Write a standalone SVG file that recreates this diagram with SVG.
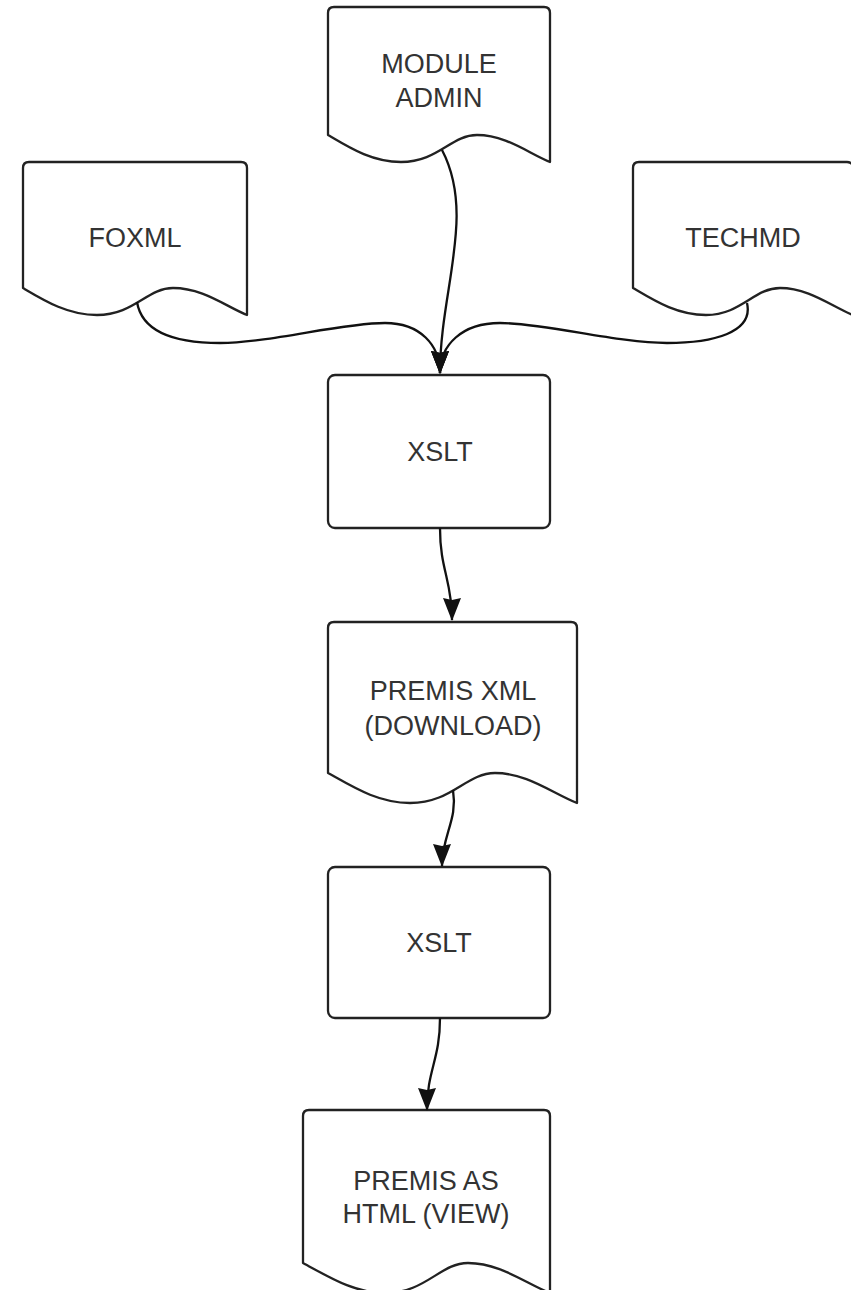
<svg xmlns="http://www.w3.org/2000/svg" width="851" height="1290" viewBox="0 0 851 1290">
  <style>
    .shape { fill: #ffffff; stroke: #222222; stroke-width: 2.3; stroke-linejoin: round; }
    .conn { fill: none; stroke: #111111; stroke-width: 2.3; marker-end: url(#arrow); }
    .label { font-family: "Liberation Sans", Arial, sans-serif; font-size: 27px; fill: #333333; text-anchor: middle; }
  </style>
  <defs>
    <marker id="arrow" markerUnits="userSpaceOnUse" viewBox="0 0 23 18" refX="22" refY="9" markerWidth="23" markerHeight="18" orient="auto">
      <path d="M0,0 L23,9 L0,18 L2,9 Z" fill="#111111"/>
    </marker>
  </defs>
  <rect width="851" height="1290" fill="#ffffff"/>

  <g id="module-admin">
    <path class="shape" d="M328,135 V13 Q328,7 334,7 H544 Q550,7 550,13 V162 C528,153 506,135 477,135 C451,135 438,162 401,162 C372,162 350,148 328,135 Z"/>
    <text class="label" x="439" y="73">MODULE</text>
    <text class="label" x="439" y="107">ADMIN</text>
  </g>

  <g id="foxml">
    <path class="shape" d="M23,288 V168 Q23,162 29,162 H241 Q247,162 247,168 V315 C225,306 203,288 173,288 C147,288 134,315 97,315 C68,315 45,301 23,288 Z"/>
    <text class="label" x="135" y="247">FOXML</text>
  </g>

  <g id="techmd">
    <path class="shape" d="M633,288 V168 Q633,162 639,162 H847 Q853,162 853,168 V315 C831,306 809,288 780,288 C754,288 741,315 706,315 C677,315 655,301 633,288 Z"/>
    <text class="label" x="743" y="247">TECHMD</text>
  </g>

  <g id="xslt-1">
    <rect class="shape" x="328" y="375" width="222" height="153" rx="7" ry="7"/>
    <text class="label" x="440" y="461">XSLT</text>
  </g>

  <g id="premis-xml">
    <path class="shape" d="M328,773 V628 Q328,622 334,622 H571 Q577,622 577,628 V803 C552,793 527,773 495,773 C466,773 452,803 410,803 C378,803 353,787 328,773 Z"/>
    <text class="label" x="453" y="700">PREMIS XML</text>
    <text class="label" x="453" y="735">(DOWNLOAD)</text>
  </g>

  <g id="xslt-2">
    <rect class="shape" x="328" y="867" width="222" height="151" rx="7" ry="7"/>
    <text class="label" x="439" y="952">XSLT</text>
  </g>

  <g id="premis-html">
    <path class="shape" d="M303,1263 V1116 Q303,1110 309,1110 H544 Q550,1110 550,1116 V1293 C525,1283 500,1263 468,1263 C440,1263 426,1293 385,1293 C354,1293 329,1277 303,1263 Z"/>
    <text class="label" x="426" y="1190">PREMIS AS</text>
    <text class="label" x="426" y="1223">HTML (VIEW)</text>
  </g>

  <g id="connectors">
    <path class="conn" d="M442,150 C476,215 440,290 440,373"/>
    <path class="conn" d="M137,302 C142,332 175,343 220,343 C270,343 340,323 385,323 C420,323 440,345 440,373"/>
    <path class="conn" d="M747,303 C754,333 712,343 667,343 C617,343 545,323 500,323 C462,323 440,345 440,373"/>
    <path class="conn" d="M440,528 C440,570 452,580 452,620"/>
    <path class="conn" d="M453,790 C458,820 442,835 442,866"/>
    <path class="conn" d="M440,1018 C440,1060 427,1070 427,1110"/>
  </g>
</svg>
